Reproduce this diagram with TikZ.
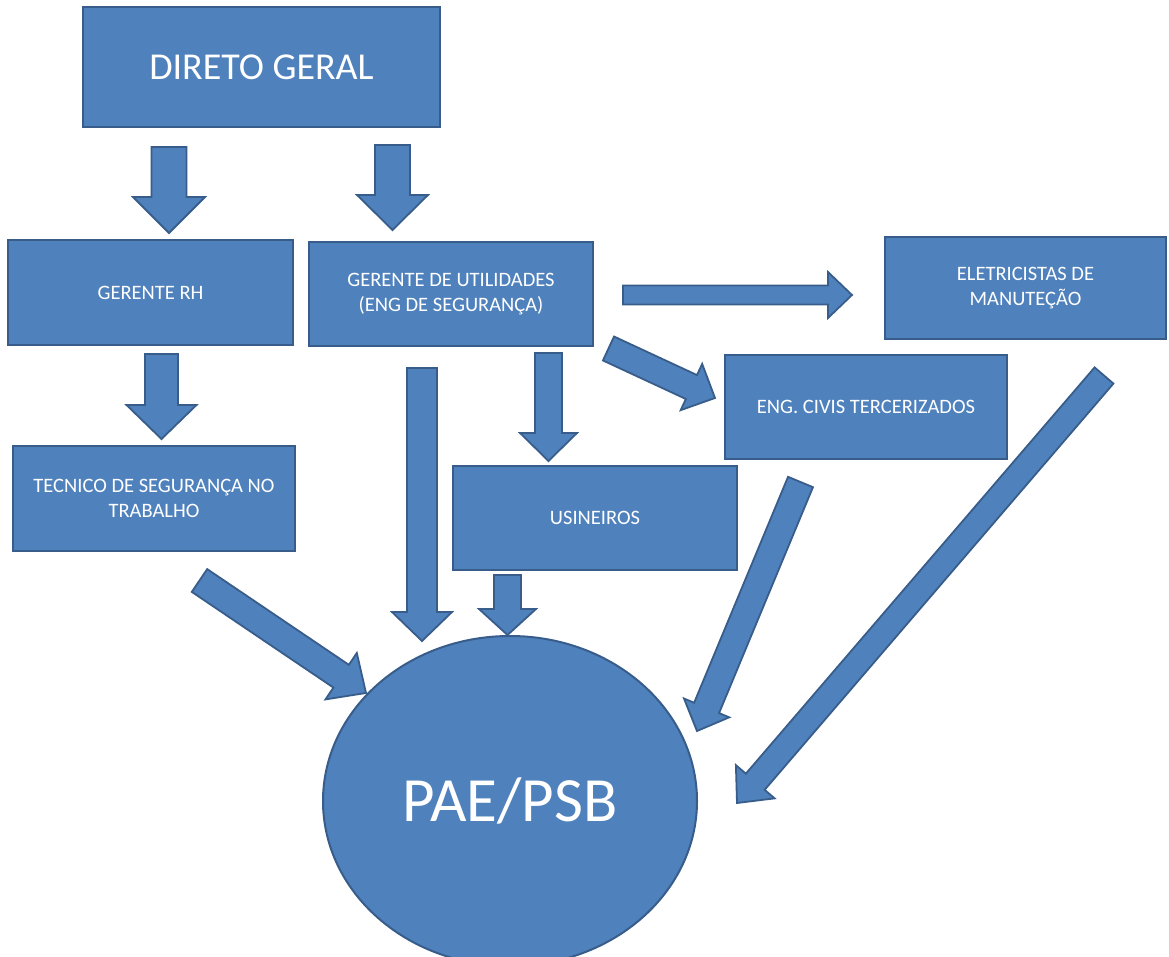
\documentclass[tikz,border=0pt]{standalone}
\usepackage{fontspec}
\setmainfont{Carlito}
\usetikzlibrary{calc,shapes.geometric}
\definecolor{boxblue}{HTML}{4F81BD}
\definecolor{edgeblue}{HTML}{385D8A}
\tikzset{
  box/.style={draw=edgeblue, fill=boxblue, line width=2pt, text=white, align=center, inner sep=0pt, font=\fontsize{20.5}{25}\selectfont},
  barrow/.style={draw=edgeblue, fill=boxblue, line width=1.8pt, line join=miter},
}
\newcommand{\blockarrow}[5]{%
  \coordinate (hb) at ($(#2)!#5!(#1)$);
  \draw[barrow] ($(#1)!#3!90:(#2)$) -- ($(hb)!#3!90:(#2)$) -- ($(hb)!#4!90:(#2)$) -- (#2) -- ($(hb)!#4!-90:(#2)$) -- ($(hb)!#3!-90:(#2)$) -- ($(#1)!#3!-90:(#2)$) -- cycle;
}
\begin{document}
\begin{tikzpicture}[x=1pt,y=-1pt]
\fill[white] (0,0) rectangle (1169,957);
\useasboundingbox (0,0) rectangle (1169,957);

% boxes
\node[box, minimum width=357pt, minimum height=120pt, font=\fontsize{38}{44}\selectfont] (dg) at (261.5,67) {DIRETO GERAL};
\node[box, minimum width=285pt, minimum height=105pt] (rh) at (150.5,292.5) {GERENTE RH};
\node[box, minimum width=284pt, minimum height=104pt] (util) at (451,294) {GERENTE DE UTILIDADES\\(ENG DE SEGURANÇA)};
\node[box, minimum width=281pt, minimum height=102pt] (elet) at (1025.5,288) {ELETRICISTAS DE\\MANUTEÇÃO};
\node[box, minimum width=282pt, minimum height=104pt] (civis) at (866,407) {ENG. CIVIS TERCERIZADOS};
\node[box, minimum width=282pt, minimum height=105pt] (tec) at (154,498.5) {TECNICO DE SEGURANÇA NO\\TRABALHO};
\node[box, minimum width=284pt, minimum height=104pt] (usin) at (595,518) {USINEIROS};
\node[box, ellipse, minimum width=374pt, minimum height=330pt, font=\fontsize{63}{72}\selectfont] (pae) at (510,801) {PAE/PSB};

% block arrows
\coordinate (a1s) at (169,147);    \coordinate (a1t) at (169,233);
\blockarrow{a1s}{a1t}{17.5pt}{36pt}{36pt}
\coordinate (a2s) at (392.5,145);  \coordinate (a2t) at (392.5,230);
\blockarrow{a2s}{a2t}{17.5pt}{35.5pt}{35pt}
\coordinate (a3s) at (161.5,354);  \coordinate (a3t) at (161.5,439);
\blockarrow{a3s}{a3t}{16.5pt}{35pt}{34pt}
\coordinate (a4s) at (548.5,353);  \coordinate (a4t) at (548.5,461);
\blockarrow{a4s}{a4t}{13.5pt}{28.5pt}{28pt}
\coordinate (a5s) at (422,368);    \coordinate (a5t) at (422,641);
\blockarrow{a5s}{a5t}{15pt}{30pt}{29pt}
\coordinate (a6s) at (507.5,575);  \coordinate (a6t) at (507.5,635);
\blockarrow{a6s}{a6t}{13.5pt}{28.5pt}{26pt}
\coordinate (a7s) at (199.5,580.5); \coordinate (a7t) at (366,693);
\blockarrow{a7s}{a7t}{13.75pt}{28pt}{30pt}
\coordinate (a8s) at (608.5,348.5); \coordinate (a8t) at (715,398);
\blockarrow{a8s}{a8t}{13.2pt}{25.5pt}{26pt}
\coordinate (a9s) at (623,295);    \coordinate (a9t) at (852,295);
\blockarrow{a9s}{a9t}{9.5pt}{23pt}{24pt}
\coordinate (a10s) at (800.5,482); \coordinate (a10t) at (697,731);
\blockarrow{a10s}{a10t}{13.5pt}{24.5pt}{25pt}
\coordinate (a11s) at (1104,375.5); \coordinate (a11t) at (737,803);
\blockarrow{a11s}{a11t}{12.4pt}{25.5pt}{28pt}
\end{tikzpicture}
\end{document}
